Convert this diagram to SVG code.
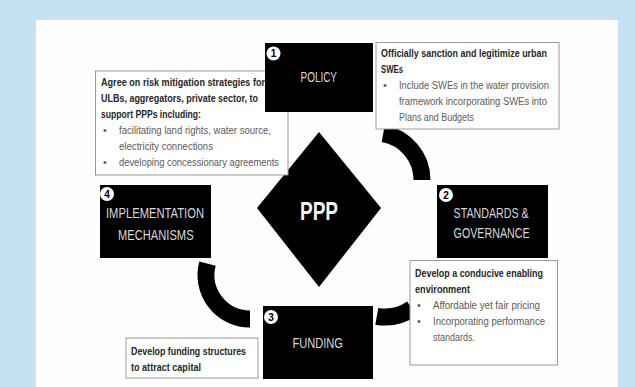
<svg xmlns="http://www.w3.org/2000/svg" width="635" height="387" viewBox="0 0 635 387">
<style>
.blk{fill:#000}
.tb{fill:#fff;stroke:#9a9a9a;stroke-width:1}
.arc{fill:none;stroke:#000;stroke-width:17}
.lbl{font-family:"Liberation Sans",Arial,sans-serif;font-size:14px;fill:#d8d8d8;text-anchor:start}
.num{font-family:"Liberation Sans",Arial,sans-serif;font-size:10px;font-weight:bold;fill:#000;text-anchor:middle}
.hd{font-family:"Liberation Sans",Arial,sans-serif;font-size:11px;font-weight:bold;fill:#262626}
.bt{font-family:"Liberation Sans",Arial,sans-serif;font-size:11px;fill:#5a5a5a}
.ppp{font-family:"Liberation Sans",Arial,sans-serif;font-size:26px;font-weight:bold;fill:#f2f2f2}
</style>
<rect x="0" y="0" width="635" height="387" fill="#c7e1f4"/>
<rect x="36" y="20" width="582" height="367" fill="#fefefe"/>

<g id="ppp">
<polygon class="blk" points="319,132 381,208 319,287 257,208"/>
<text class="ppp" x="300" y="220" textLength="38" lengthAdjust="spacingAndGlyphs">PPP</text>
</g>

<g id="connectors">
<path class="arc" d="M383.2,133.7 A47,47 0 0 1 422,180"/>
<path class="arc" d="M376.8,316.3 A47,47 0 0 0 412,308.5"/>
<path class="arc" d="M207.5,263.6 A44,44 0 0 0 250,319"/>
</g>

<g id="note-impl">
<rect class="tb" x="95.5" y="71" width="192.5" height="104"/>
<text class="hd" x="101" y="86" textLength="164" lengthAdjust="spacingAndGlyphs">Agree on risk mitigation strategies for</text>
<text class="hd" x="101" y="102" textLength="157" lengthAdjust="spacingAndGlyphs">ULBs, aggregators, private sector,  to</text>
<text class="hd" x="101" y="118" textLength="100" lengthAdjust="spacingAndGlyphs">support PPPs including:</text>
<text class="bt" x="103" y="134">•</text>
<text class="bt" x="119" y="134" textLength="152" lengthAdjust="spacingAndGlyphs">facilitating land rights, water source,</text>
<text class="bt" x="119" y="150" textLength="94" lengthAdjust="spacingAndGlyphs">electricity connections</text>
<text class="bt" x="103" y="166">•</text>
<text class="bt" x="119" y="166" textLength="160" lengthAdjust="spacingAndGlyphs">developing concessionary agreements</text>
</g>

<g id="note-policy">
<rect class="tb" x="376" y="42.5" width="183" height="86.5"/>
<text class="hd" x="381" y="57" textLength="166" lengthAdjust="spacingAndGlyphs">Officially sanction and legitimize urban</text>
<text class="hd" x="381" y="73" textLength="22" lengthAdjust="spacingAndGlyphs">SWEs</text>
<text class="bt" x="383" y="89">•</text>
<text class="bt" x="399" y="89" textLength="150" lengthAdjust="spacingAndGlyphs">Include SWEs in the water provision</text>
<text class="bt" x="399" y="105" textLength="148" lengthAdjust="spacingAndGlyphs">framework incorporating SWEs into</text>
<text class="bt" x="399" y="121" textLength="75" lengthAdjust="spacingAndGlyphs">Plans and Budgets</text>
</g>

<g id="note-standards">
<rect class="tb" x="410" y="260.5" width="147.5" height="104.5"/>
<text class="hd" x="415" y="277" textLength="128" lengthAdjust="spacingAndGlyphs">Develop a conducive enabling</text>
<text class="hd" x="415" y="293" textLength="55" lengthAdjust="spacingAndGlyphs">environment</text>
<text class="bt" x="417" y="309">•</text>
<text class="bt" x="433" y="309" textLength="107" lengthAdjust="spacingAndGlyphs">Affordable yet fair pricing</text>
<text class="bt" x="417" y="325">•</text>
<text class="bt" x="433" y="325" textLength="112" lengthAdjust="spacingAndGlyphs">Incorporating performance</text>
<text class="bt" x="433" y="341" textLength="42" lengthAdjust="spacingAndGlyphs">standards.</text>
</g>

<g id="note-funding">
<rect class="tb" x="126" y="338" width="132" height="40"/>
<text class="hd" x="131" y="355" textLength="115" lengthAdjust="spacingAndGlyphs">Develop funding structures</text>
<text class="hd" x="131" y="371" textLength="70" lengthAdjust="spacingAndGlyphs">to attract capital</text>
</g>

<g id="policy">
<rect class="blk" x="265" y="43" width="108" height="69"/>
<circle cx="273.5" cy="53.5" r="7" fill="#fff"/>
<text class="num" x="273.5" y="57">1</text>
<text class="lbl" x="300.5" y="82" textLength="36.5" lengthAdjust="spacingAndGlyphs">POLICY</text>
</g>

<g id="standards">
<rect class="blk" x="437" y="185" width="111" height="73"/>
<circle cx="446" cy="195" r="7" fill="#fff"/>
<text class="num" x="446" y="198.5">2</text>
<text class="lbl" x="453.6" y="218" textLength="75" lengthAdjust="spacingAndGlyphs">STANDARDS &amp;</text>
<text class="lbl" x="453.6" y="238" textLength="76" lengthAdjust="spacingAndGlyphs">GOVERNANCE</text>
</g>

<g id="funding">
<rect class="blk" x="263" y="306" width="110" height="73"/>
<circle cx="271" cy="317" r="7" fill="#fff"/>
<text class="num" x="271" y="320.5">3</text>
<text class="lbl" x="292.4" y="348" textLength="50.6" lengthAdjust="spacingAndGlyphs">FUNDING</text>
</g>

<g id="implementation">
<rect class="blk" x="100" y="185" width="111" height="73"/>
<circle cx="107" cy="194" r="7" fill="#fff"/>
<text class="num" x="107" y="197.5">4</text>
<text class="lbl" x="106" y="218" textLength="98" lengthAdjust="spacingAndGlyphs">IMPLEMENTATION</text>
<text class="lbl" x="118" y="240" textLength="75.6" lengthAdjust="spacingAndGlyphs">MECHANISMS</text>
</g>
</svg>
